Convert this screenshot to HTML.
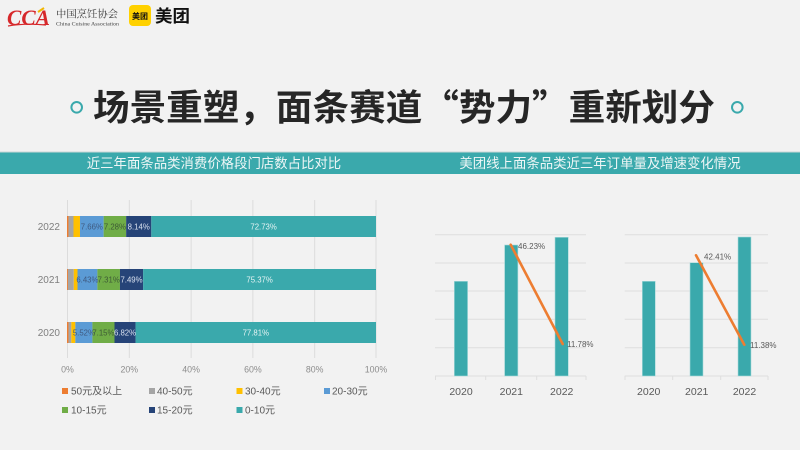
<!DOCTYPE html>
<html><head><meta charset="utf-8"><style>
html,body{margin:0;padding:0;background:#f2f2f2;}
svg{display:block;font-family:"Liberation Sans","Noto Sans CJK SC",sans-serif;}
</style></head><body>
<svg width="800" height="450" viewBox="0 0 800 450" xmlns="http://www.w3.org/2000/svg">
<rect x="0" y="0" width="800" height="450" fill="#f2f2f2"/>

<!-- Logos -->
<text x="7" y="25" style="font-family:'Liberation Serif',serif;font-style:italic;font-weight:bold" font-size="22" fill="#d6282b" textLength="43" lengthAdjust="spacingAndGlyphs">CCA</text>
<path d="M8 26 Q25 23 46 25" stroke="#d6282b" stroke-width="1.2" fill="none"/>
<path d="M38 12 L44 8" stroke="#f2b705" stroke-width="2" fill="none"/>
<text x="56" y="17.5" style="font-family:'Noto Serif CJK SC',serif" font-size="10" fill="#333" textLength="62" lengthAdjust="spacingAndGlyphs">中国烹饪协会</text>
<text x="56" y="25.5" style="font-family:'Liberation Serif',serif" font-size="5.5" fill="#444" textLength="63" lengthAdjust="spacingAndGlyphs">China Cuisine Association</text>
<rect x="129" y="5" width="22" height="21" rx="4" fill="#ffd100"/>
<text x="140" y="19" text-anchor="middle" style="font-family:'Noto Sans CJK SC',sans-serif;font-weight:bold" font-size="8" fill="#111">美团</text>
<text x="155" y="22" style="font-family:'Noto Sans CJK SC',sans-serif;font-weight:bold" font-size="17" fill="#111" textLength="35" lengthAdjust="spacingAndGlyphs">美团</text>

<!-- Title -->
<circle cx="76.7" cy="107.3" r="5.3" fill="none" stroke="#3aa9ac" stroke-width="2"/>
<circle cx="737.3" cy="107.3" r="5.3" fill="none" stroke="#3aa9ac" stroke-width="2"/>
<text x="93" y="120" style="font-family:'Noto Sans CJK SC',sans-serif;font-weight:bold" font-size="36" fill="#262626" textLength="622" lengthAdjust="spacingAndGlyphs">场景重塑，面条赛道“势力”重新划分</text>

<!-- Banner -->
<rect x="0" y="152" width="800" height="22" fill="#3aa9ac"/>
<rect x="0" y="151.5" width="800" height="1" fill="#c9d6d6"/>
<text x="214" y="168" text-anchor="middle" style="font-family:'Noto Sans CJK SC',sans-serif" font-size="13.4" fill="#eef6f6">近三年面条品类消费价格段门店数占比对比</text>
<text x="600" y="168" text-anchor="middle" style="font-family:'Noto Sans CJK SC',sans-serif" font-size="13.4" fill="#eef6f6">美团线上面条品类近三年订单量及增速变化情况</text>

<!-- Left chart gridlines -->
<g stroke="#dcdcdc" stroke-width="1">
<line x1="67.5" y1="200" x2="67.5" y2="358"/>
<line x1="129.3" y1="200" x2="129.3" y2="358"/>
<line x1="191.1" y1="200" x2="191.1" y2="358"/>
<line x1="252.9" y1="200" x2="252.9" y2="358"/>
<line x1="314.7" y1="200" x2="314.7" y2="358"/>
<line x1="376" y1="200" x2="376" y2="358"/>
</g>

<!-- 2022 -->
<g>
<rect x="67" y="216" width="1.55" height="21" fill="#ed7d31"/>
<rect x="68.55" y="216" width="4.94" height="21" fill="#a5a5a5"/>
<rect x="73.49" y="216" width="6.49" height="21" fill="#ffc000"/>
<rect x="79.98" y="216" width="23.67" height="21" fill="#5b9bd5"/>
<rect x="103.65" y="216" width="22.49" height="21" fill="#70ad47"/>
<rect x="126.14" y="216" width="25.16" height="21" fill="#264478"/>
<rect x="151.3" y="216" width="224.7" height="21" fill="#3aa9ac"/>
</g>
<!-- 2021 -->
<g>
<rect x="67" y="269" width="0.93" height="21" fill="#ed7d31"/>
<rect x="67.93" y="269" width="5.87" height="21" fill="#a5a5a5"/>
<rect x="73.8" y="269" width="3.71" height="21" fill="#ffc000"/>
<rect x="77.51" y="269" width="19.86" height="21" fill="#5b9bd5"/>
<rect x="97.37" y="269" width="22.59" height="21" fill="#70ad47"/>
<rect x="119.96" y="269" width="23.15" height="21" fill="#264478"/>
<rect x="143.11" y="269" width="232.89" height="21" fill="#3aa9ac"/>
</g>
<!-- 2020 -->
<g>
<rect x="67" y="322" width="1.55" height="21" fill="#ed7d31"/>
<rect x="68.55" y="322" width="2.78" height="21" fill="#a5a5a5"/>
<rect x="71.33" y="322" width="4.01" height="21" fill="#ffc000"/>
<rect x="75.34" y="322" width="17.06" height="21" fill="#5b9bd5"/>
<rect x="92.4" y="322" width="22.09" height="21" fill="#70ad47"/>
<rect x="114.49" y="322" width="21.08" height="21" fill="#264478"/>
<rect x="135.57" y="322" width="240.43" height="21" fill="#3aa9ac"/>
</g>

<!-- Segment labels -->
<g font-size="7.8" text-anchor="middle">
<text x="91.8" y="229.5" fill="#3f5a80">7.66%</text>
<text x="114.9" y="229.5" fill="#3d5a35">7.28%</text>
<text x="138.7" y="229.5" fill="#d8e0ee">8.14%</text>
<text x="263.6" y="229.5" fill="#e6f4f4">72.73%</text>
<text x="87.4" y="282.5" fill="#3f5a80">6.43%</text>
<text x="108.7" y="282.5" fill="#3d5a35">7.31%</text>
<text x="131.5" y="282.5" fill="#d8e0ee">7.49%</text>
<text x="259.6" y="282.5" fill="#e6f4f4">75.37%</text>
<text x="83.9" y="335.5" fill="#3f5a80">5.52%</text>
<text x="103.4" y="335.5" fill="#3d5a35">7.15%</text>
<text x="125" y="335.5" fill="#d8e0ee">6.82%</text>
<text x="255.8" y="335.5" fill="#e6f4f4">77.81%</text>
</g>

<!-- Y labels -->
<g font-size="10" text-anchor="end" fill="#7f7f7f">
<text x="60" y="230">2022</text>
<text x="60" y="283">2021</text>
<text x="60" y="336">2020</text>
</g>
<!-- X ticks -->
<g font-size="8.8" text-anchor="middle" fill="#8c8c8c">
<text x="67.5" y="372.5">0%</text>
<text x="129.3" y="372.5">20%</text>
<text x="191.1" y="372.5">40%</text>
<text x="252.9" y="372.5">60%</text>
<text x="314.7" y="372.5">80%</text>
<text x="376" y="372.5">100%</text>
</g>

<!-- Legend -->
<g font-size="10" fill="#595959">
<rect x="62" y="388" width="6" height="6" fill="#ed7d31"/><text x="71" y="394.5">50元及以上</text>
<rect x="149" y="388" width="6" height="6" fill="#a5a5a5"/><text x="157" y="394.5">40-50元</text>
<rect x="236.5" y="388" width="6" height="6" fill="#ffc000"/><text x="245" y="394.5">30-40元</text>
<rect x="324" y="388" width="6" height="6" fill="#5b9bd5"/><text x="332" y="394.5">20-30元</text>
<rect x="62" y="407" width="6" height="6" fill="#70ad47"/><text x="71" y="413.5">10-15元</text>
<rect x="149" y="407" width="6" height="6" fill="#264478"/><text x="157" y="413.5">15-20元</text>
<rect x="236.5" y="407" width="6" height="6" fill="#3aa9ac"/><text x="245" y="413.5">0-10元</text>
</g>

<!-- Right chart 1 -->
<g stroke="#dedede" stroke-width="1">
<line x1="435" y1="234.7" x2="586" y2="234.7"/>
<line x1="435" y1="263" x2="586" y2="263"/>
<line x1="435" y1="291" x2="586" y2="291"/>
<line x1="435" y1="319.3" x2="586" y2="319.3"/>
<line x1="435" y1="347.7" x2="586" y2="347.7"/>
<line x1="435" y1="376" x2="586" y2="376"/>
<line x1="435.5" y1="376" x2="435.5" y2="380"/>
<line x1="485.7" y1="376" x2="485.7" y2="380"/>
<line x1="536.7" y1="376" x2="536.7" y2="380"/>
<line x1="586" y1="376" x2="586" y2="380"/>
</g>
<g fill="#3aa9ac" stroke="#a9dadb" stroke-width="0.6">
<rect x="454.3" y="281.3" width="13.3" height="94.7"/>
<rect x="504.6" y="245" width="13.3" height="131"/>
<rect x="555" y="237.3" width="13.3" height="138.7"/>
</g>
<line x1="510.7" y1="244.7" x2="562.7" y2="344" stroke="#ed7d31" stroke-width="2.6" stroke-linecap="round"/>
<g font-size="8" fill="#595959">
<text x="518" y="249">46.23%</text>
<text x="567" y="347">11.78%</text>
</g>
<g font-size="10.5" text-anchor="middle" fill="#595959">
<text x="461" y="395">2020</text>
<text x="511.3" y="395">2021</text>
<text x="561.7" y="395">2022</text>
</g>

<!-- Right chart 2 -->
<g stroke="#dedede" stroke-width="1">
<line x1="624.7" y1="234.7" x2="768" y2="234.7"/>
<line x1="624.7" y1="263" x2="768" y2="263"/>
<line x1="624.7" y1="291" x2="768" y2="291"/>
<line x1="624.7" y1="319.3" x2="768" y2="319.3"/>
<line x1="624.7" y1="347.7" x2="768" y2="347.7"/>
<line x1="624.7" y1="376" x2="768" y2="376"/>
<line x1="625" y1="376" x2="625" y2="380"/>
<line x1="672.7" y1="376" x2="672.7" y2="380"/>
<line x1="720.7" y1="376" x2="720.7" y2="380"/>
<line x1="768" y1="376" x2="768" y2="380"/>
</g>
<g fill="#3aa9ac" stroke="#a9dadb" stroke-width="0.6">
<rect x="642.3" y="281.3" width="13" height="94.7"/>
<rect x="690" y="262.7" width="13" height="113.3"/>
<rect x="738" y="237" width="13" height="139"/>
</g>
<line x1="696" y1="255.3" x2="744.3" y2="344.7" stroke="#ed7d31" stroke-width="2.6" stroke-linecap="round"/>
<g font-size="8" fill="#595959">
<text x="704" y="259.5">42.41%</text>
<text x="750" y="348">11.38%</text>
</g>
<g font-size="10.5" text-anchor="middle" fill="#595959">
<text x="648.7" y="395">2020</text>
<text x="696.7" y="395">2021</text>
<text x="744.5" y="395">2022</text>
</g>
</svg>
</body></html>
